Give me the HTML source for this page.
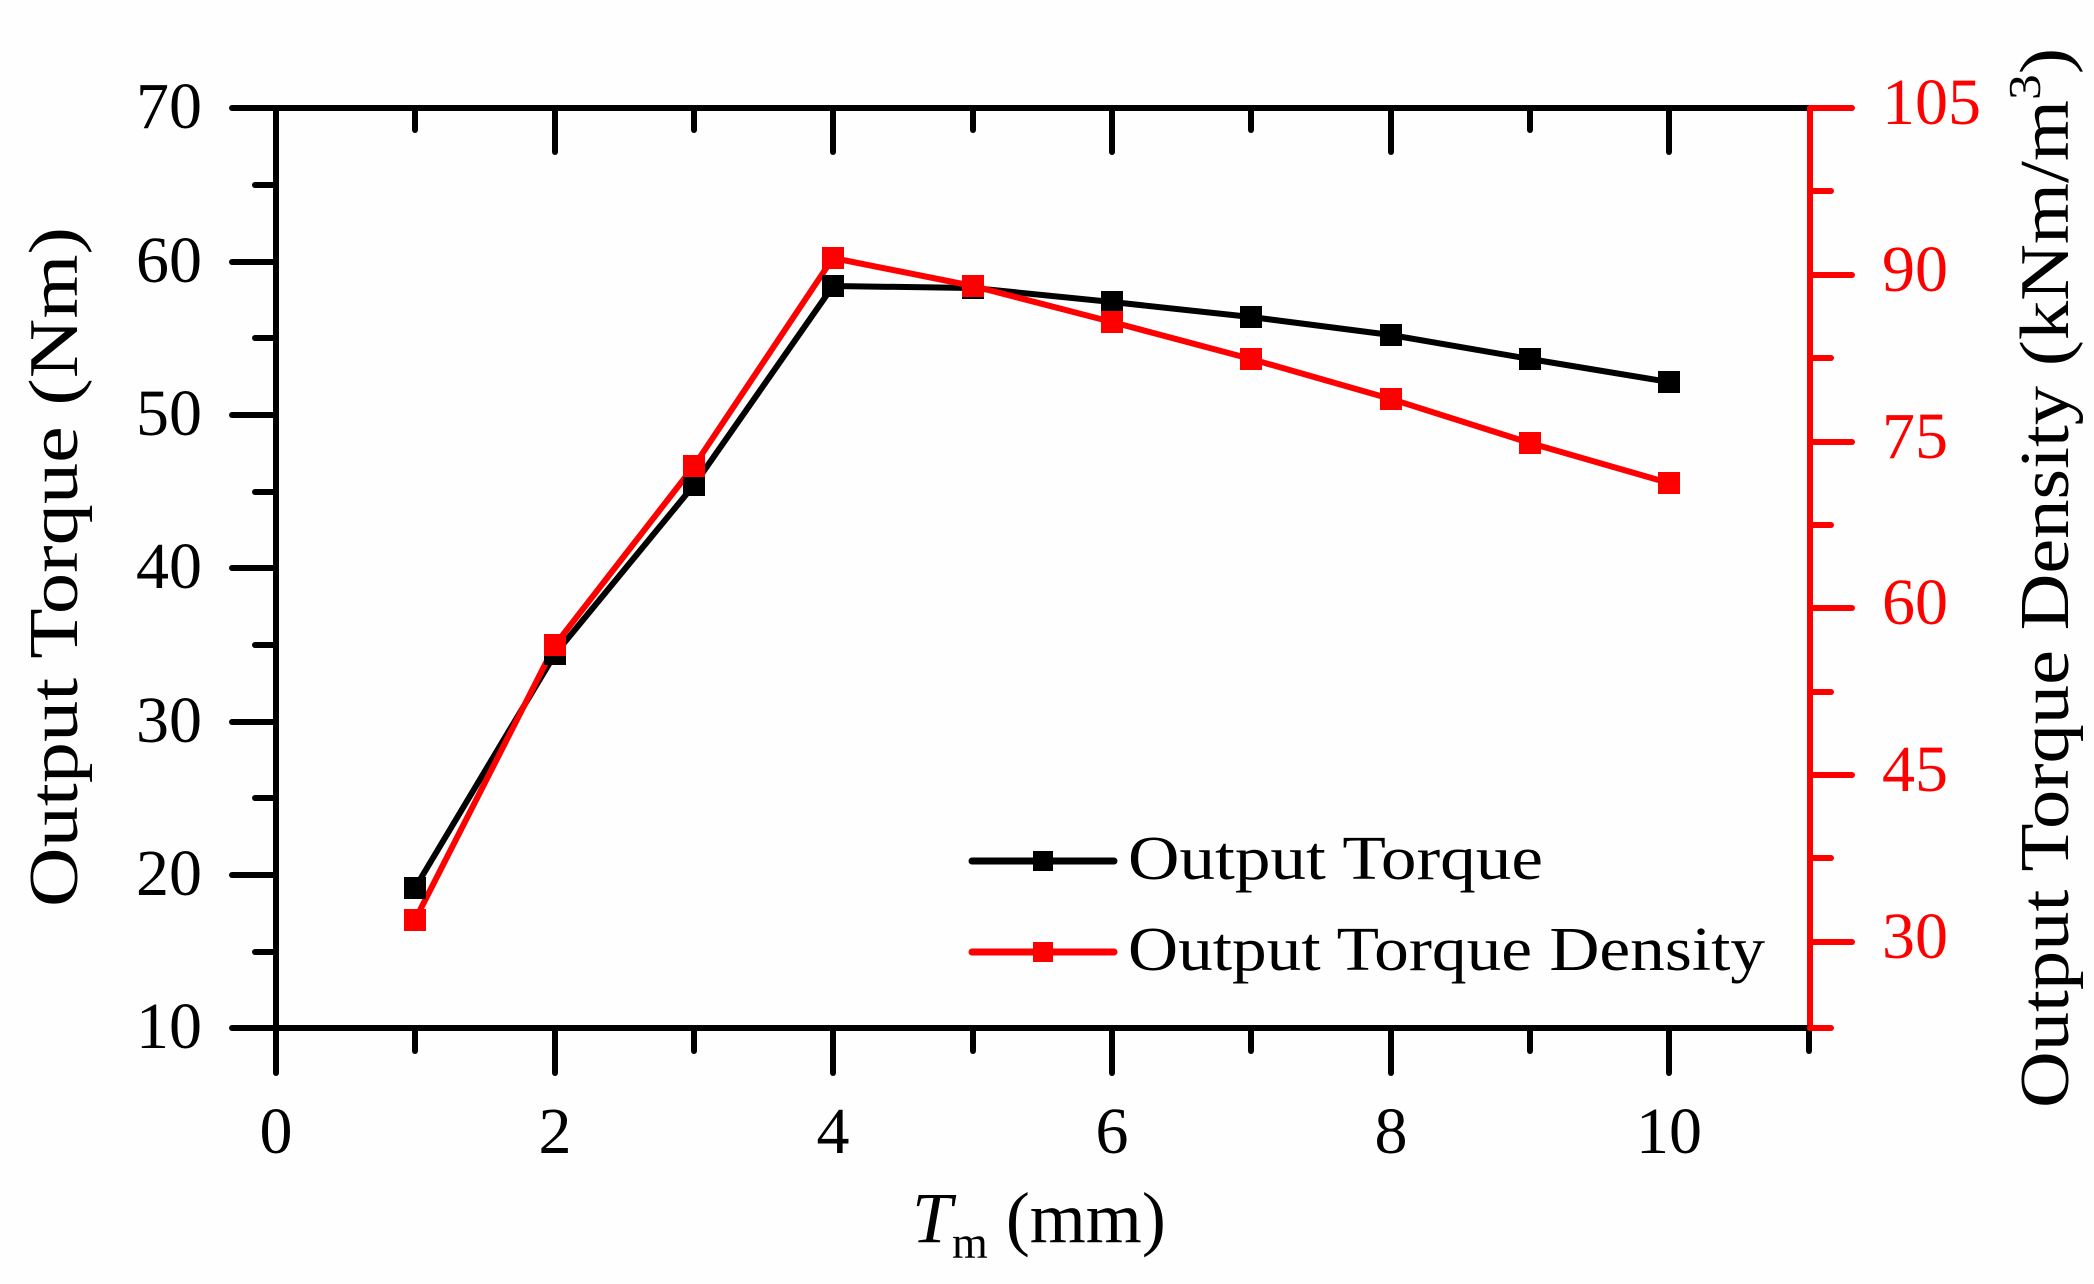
<!DOCTYPE html>
<html><head><meta charset="utf-8"><style>
html,body{margin:0;padding:0;background:#fefefe;}
svg{display:block;}
text{font-family:"Liberation Serif",serif;}
</style></head><body>
<svg width="2094" height="1284" viewBox="0 0 2094 1284" xmlns="http://www.w3.org/2000/svg">
<rect width="2094" height="1284" fill="#fefefe"/>
<g stroke-linecap="round" stroke-width="6" fill="none">
<line x1="276" y1="108" x2="1810" y2="108" stroke="#000"/>
<line x1="276" y1="108" x2="276" y2="1028" stroke="#000"/>
<line x1="276" y1="1028" x2="1810" y2="1028" stroke="#000"/>
<line x1="1810" y1="108" x2="1810" y2="1028" stroke="#f00"/>
<g stroke="#000">
<line x1="232" y1="108" x2="276" y2="108"/><line x1="255" y1="185" x2="276" y2="185"/>
<line x1="232" y1="262" x2="276" y2="262"/><line x1="255" y1="338" x2="276" y2="338"/>
<line x1="232" y1="415" x2="276" y2="415"/><line x1="255" y1="492" x2="276" y2="492"/>
<line x1="232" y1="568" x2="276" y2="568"/><line x1="255" y1="645" x2="276" y2="645"/>
<line x1="232" y1="722" x2="276" y2="722"/><line x1="255" y1="798" x2="276" y2="798"/>
<line x1="232" y1="875" x2="276" y2="875"/><line x1="255" y1="952" x2="276" y2="952"/>
<line x1="232" y1="1028" x2="276" y2="1028"/>
</g>
<g stroke="#000">
<line x1="276" y1="1028" x2="276" y2="1073"/><line x1="415" y1="1028" x2="415" y2="1051"/>
<line x1="555" y1="1028" x2="555" y2="1073"/><line x1="694" y1="1028" x2="694" y2="1051"/>
<line x1="833" y1="1028" x2="833" y2="1073"/><line x1="973" y1="1028" x2="973" y2="1051"/>
<line x1="1112" y1="1028" x2="1112" y2="1073"/><line x1="1251" y1="1028" x2="1251" y2="1051"/>
<line x1="1391" y1="1028" x2="1391" y2="1073"/><line x1="1530" y1="1028" x2="1530" y2="1051"/>
<line x1="1669" y1="1028" x2="1669" y2="1073"/><line x1="1809" y1="1028" x2="1809" y2="1051"/>
<line x1="415" y1="108" x2="415" y2="130"/>
<line x1="555" y1="108" x2="555" y2="152"/><line x1="694" y1="108" x2="694" y2="130"/>
<line x1="833" y1="108" x2="833" y2="152"/><line x1="973" y1="108" x2="973" y2="130"/>
<line x1="1112" y1="108" x2="1112" y2="152"/><line x1="1251" y1="108" x2="1251" y2="130"/>
<line x1="1391" y1="108" x2="1391" y2="152"/><line x1="1530" y1="108" x2="1530" y2="130"/>
<line x1="1669" y1="108" x2="1669" y2="152"/>
</g>
<g stroke="#f00">
<line x1="1810" y1="108" x2="1852" y2="108"/><line x1="1810" y1="191" x2="1831" y2="191"/>
<line x1="1810" y1="275" x2="1852" y2="275"/><line x1="1810" y1="358" x2="1831" y2="358"/>
<line x1="1810" y1="442" x2="1852" y2="442"/><line x1="1810" y1="525" x2="1831" y2="525"/>
<line x1="1810" y1="608" x2="1852" y2="608"/><line x1="1810" y1="692" x2="1831" y2="692"/>
<line x1="1810" y1="775" x2="1852" y2="775"/><line x1="1810" y1="858" x2="1831" y2="858"/>
<line x1="1810" y1="942" x2="1852" y2="942"/><line x1="1810" y1="1028" x2="1831" y2="1028"/>
</g>
<polyline stroke="#000" stroke-linejoin="round" points="415,888 555,654 694,485 833,286 973,288 1112,302 1251,317 1391,335 1530,359 1669,382"/>
<polyline stroke="#f00" stroke-linejoin="round" points="415,920 555,645 694,466 833,258 973,286 1112,322 1251,359 1391,399 1530,443 1669,483"/>
<line x1="972" y1="861" x2="1114" y2="861" stroke="#000" stroke-width="7"/>
<line x1="972" y1="952" x2="1114" y2="952" stroke="#f00" stroke-width="7"/>
</g>
<g fill="#000">
<rect x="404" y="877" width="22" height="22"/><rect x="544" y="643" width="22" height="22"/>
<rect x="683" y="474" width="22" height="22"/><rect x="822" y="275" width="22" height="22"/>
<rect x="962" y="277" width="22" height="22"/><rect x="1101" y="291" width="22" height="22"/>
<rect x="1240" y="306" width="22" height="22"/><rect x="1380" y="324" width="22" height="22"/>
<rect x="1519" y="348" width="22" height="22"/><rect x="1658" y="371" width="22" height="22"/>
<rect x="1033" y="851" width="20" height="20"/>
</g>
<g fill="#f00">
<rect x="404" y="909" width="22" height="22"/><rect x="544" y="634" width="22" height="22"/>
<rect x="683" y="455" width="22" height="22"/><rect x="822" y="247" width="22" height="22"/>
<rect x="962" y="275" width="22" height="22"/><rect x="1101" y="311" width="22" height="22"/>
<rect x="1240" y="348" width="22" height="22"/><rect x="1380" y="388" width="22" height="22"/>
<rect x="1519" y="432" width="22" height="22"/><rect x="1658" y="472" width="22" height="22"/>
<rect x="1033" y="942" width="20" height="20"/>
</g>
<g font-size="66" text-anchor="end" fill="#000">
<text x="202" y="128">70</text><text x="202" y="282">60</text><text x="202" y="435">50</text>
<text x="202" y="588">40</text><text x="202" y="742">30</text><text x="202" y="895">20</text>
<text x="202" y="1048">10</text>
</g>
<g font-size="66" text-anchor="middle" fill="#000">
<text x="276" y="1153">0</text><text x="555" y="1153">2</text><text x="833" y="1153">4</text>
<text x="1112" y="1153">6</text><text x="1391" y="1153">8</text><text x="1669" y="1153">10</text>
</g>
<g font-size="66" fill="#f00">
<text x="1882" y="124">105</text><text x="1882" y="291">90</text><text x="1882" y="458">75</text>
<text x="1882" y="624">60</text><text x="1882" y="791">45</text><text x="1882" y="958">30</text>
</g>
<text x="912" y="1242" font-size="72" fill="#000"><tspan font-style="italic">T</tspan><tspan font-size="46" dy="16">m</tspan><tspan dy="-16"> (mm)</tspan></text>
<text transform="translate(77,567) rotate(-90)" font-size="70" text-anchor="middle" fill="#000" textLength="680" lengthAdjust="spacingAndGlyphs">Output Torque (Nm)</text>
<text transform="translate(2068,578) rotate(-90)" font-size="70" text-anchor="middle" fill="#000" textLength="1060" lengthAdjust="spacingAndGlyphs">Output Torque Density (kNm/m<tspan font-size="46" dy="-28">3</tspan><tspan dy="28">)</tspan></text>
<text x="1128" y="879" font-size="62" fill="#000" textLength="415" lengthAdjust="spacingAndGlyphs">Output Torque</text>
<text x="1128" y="970" font-size="62" fill="#000" textLength="637" lengthAdjust="spacingAndGlyphs">Output Torque Density</text>
</svg>
</body></html>
